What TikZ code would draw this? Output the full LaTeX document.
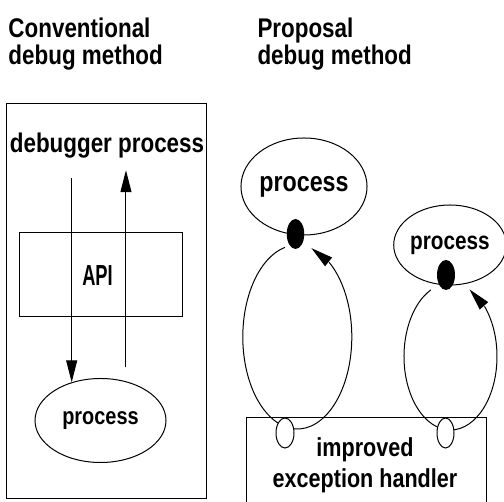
\documentclass[tikz,border=0pt]{standalone}
\usepackage{fontspec}
\setmainfont{Liberation Sans}[FakeStretch=0.83]
\usetikzlibrary{positioning, calc, arrows.meta, bending, shapes.geometric}

\tikzset{
  lbl/.style={font=\bfseries\fontsize{26}{27}\selectfont, inner sep=0pt},
  ttl/.style={font=\bfseries\fontsize{27}{27}\selectfont, inner sep=0pt, anchor=north west, align=left},
  proc/.style={draw, ellipse, inner sep=0pt, font=\bfseries\fontsize{25}{26}\selectfont},
  hook/.style={draw, ellipse, fill=white, inner sep=0pt, minimum width=18, minimum height=30},
  knot/.style={ellipse, fill=black, inner sep=0pt, minimum width=18, minimum height=30},
}

\begin{document}
\begin{tikzpicture}[x=1pt, y=1pt, line width=1pt, >={Triangle[length=22pt, width=11pt]}]
    \useasboundingbox (0,0) rectangle (504,502);

    % --- Titles ---
    \node[ttl] (convT) at (8,485) {Conventional\\debug method};
    \node[ttl] (propT) at (257,485) {Proposal\\debug method};

    % --- Conventional method (left side) ---
    \node[draw, minimum width=200, minimum height=395, inner sep=0pt] (conv) at (106,200.5) {};
    \node[lbl, font=\bfseries\fontsize{27}{28}\selectfont, anchor=base] (dbg) at (107,349) {debugger process};
    \node[draw, minimum width=163, minimum height=84, inner sep=0pt] (api) at (100.5,227) {};
    \node[lbl, font=\bfseries\fontsize{29}{30}\selectfont] (apiT) at (97.5,226) {\scalebox{0.76}[1]{API}};
    \node[proc, font=\bfseries\fontsize{24}{25}\selectfont, minimum width=131, minimum height=84] (procC) at (100.5,81.5) {process};

    % --- Calls through the API ---
    \draw[->] ([yshift=-19]dbg.south -| procC.127) -- (procC.127);
    \draw[->] ([yshift=14]procC.57) -- ([yshift=-11]dbg.south -| procC.57);

    % --- Proposal method (right side) ---
    \node[proc, font=\bfseries\fontsize{28}{29}\selectfont, minimum width=124, minimum height=97] (procA) at (304,315.5) {process};
    \node[proc, minimum width=108, minimum height=80] (procB) at (450,257) {process};
    \node[draw, minimum width=240, minimum height=104, inner sep=0pt] (hdl) at (366,32) {};
    \node[lbl, align=center, anchor=north] (hdlT) at (365,65) {improved\\[4pt]exception handler};

    % --- Loops between handler and processes ---
    \coordinate (loopA) at (297.3,165);
    \coordinate (loopB) at (450.5,145.5);
    \draw (loopA) ++(103:54.5 and 92) arc[start angle=103, end angle=262, x radius=54.5, y radius=92];
    \draw[->] (loopA) ++(262:54.5 and 92) arc[start angle=262, end angle=435, x radius=54.5, y radius=92];
    \draw (loopB) ++(115:46.5 and 73.5) arc[start angle=115, end angle=265, x radius=46.5, y radius=73.5];
    \draw[->] (loopB) ++(265:46.5 and 73.5) arc[start angle=265, end angle=426, x radius=46.5, y radius=73.5];

    % --- Hook points ---
    \node[hook] (hkA) at (285,69) {};
    \node[hook, minimum width=17] (hkB) at (445.5,69) {};
    \node[knot, minimum width=17.5] (dotA) at (295.5,268) {};
    \node[knot] (dotB) at (446,227) {};

\end{tikzpicture}
\end{document}
